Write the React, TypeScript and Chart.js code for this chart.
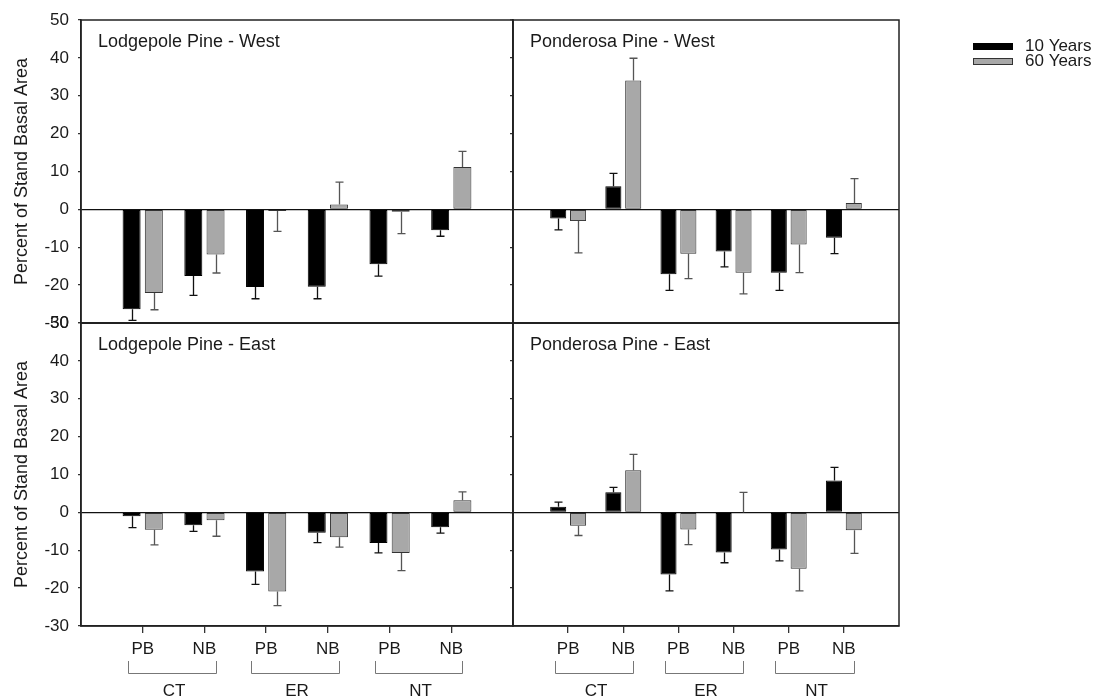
import React, { useEffect, useRef } from 'react';
import { Chart, registerables } from 'chart.js';

Chart.register(...registerables);

// ---------------- data ----------------
const seriesNames = ['10 Years', '60 Years'];
const treatmentLabels = ['PB', 'NB', 'PB', 'NB', 'PB', 'NB'];
const groupLabels = ['CT', 'ER', 'NT'];
const yMin = -30;
const yMax = 50;
const yStep = 10;
const yAxisTitle = 'Percent of Stand Basal Area';
const panelTitles = [
  'Lodgepole Pine - West',
  'Ponderosa Pine - West',
  'Lodgepole Pine - East',
  'Ponderosa Pine - East',
];

const lpWest10 = [-26.4, -17.6, -20.5, -20.4, -14.5, -5.5];
const lpWest10Err = [2.9, 5.1, 3.1, 3.2, 3.1, 1.6];
const lpWest60 = [-22.1, -11.9, -0.4, 1.3, -0.6, 11.2];
const lpWest60Err = [4.4, 4.9, 5.4, 5.9, 5.8, 4.1];

const ppWest10 = [-2.4, 6.1, -17.1, -11.1, -16.7, -7.5];
const ppWest10Err = [3.0, 3.4, 4.3, 4.1, 4.7, 4.2];
const ppWest60 = [-3.1, 34.0, -11.7, -16.7, -9.3, 1.7];
const ppWest60Err = [8.4, 5.9, 6.6, 5.6, 7.4, 6.4];

const lpEast10 = [-1.0, -3.4, -15.6, -5.4, -8.1, -3.9];
const lpEast10Err = [3.0, 1.6, 3.4, 2.6, 2.6, 1.6];
const lpEast60 = [-4.6, -2.1, -20.9, -6.6, -10.7, 3.2];
const lpEast60Err = [4.0, 4.2, 3.7, 2.6, 4.7, 2.2];

const ppEast10 = [1.5, 5.3, -16.4, -10.6, -9.8, 8.4];
const ppEast10Err = [1.2, 1.3, 4.3, 2.7, 3.0, 3.5];
const ppEast60 = [-3.5, 11.1, -4.5, 0, -14.9, -4.7];
const ppEast60Err = [2.6, 4.2, 4.0, 5.3, 5.8, 6.1];

// ---------------- style ----------------
const FONT = "'Liberation Sans', Arial, Helvetica, sans-serif";
const TEXT = '#1a1a1a';
const barColors = ['#000000', '#a8a8a8'];
const barBorders = ['#000000', '#333333'];
const errColors = ['#111111', '#555555'];

Chart.defaults.font.family = FONT;
Chart.defaults.font.size = 17;
Chart.defaults.color = TEXT;

const pad = (arr: (number | null)[]) => [null, ...arr, null];
const xLabels = ['', ...treatmentLabels, ''];

type PanelCfg = {
  x: number; y: number; w: number; h: number;
  padding: { top: number; right: number; bottom: number; left: number };
  yWidth: number;
  showYLabels: boolean;
  bottomRow: boolean;
  legend: boolean;
  title: string;
  v10: number[]; e10: number[]; v60: number[]; e60: number[];
};

// chart areas: left column x 81..513, right column 513..899; top row y 20..323, bottom row 323..626
const panels: PanelCfg[] = [
  {
    x: 0, y: 0, w: 530, h: 360,
    padding: { top: 20, right: 17, bottom: 37, left: 0 },
    yWidth: 81, showYLabels: true, bottomRow: false, legend: false,
    title: panelTitles[0], v10: lpWest10, e10: lpWest10Err, v60: lpWest60, e60: lpWest60Err,
  },
  {
    x: 500, y: 0, w: 596, h: 360,
    padding: { top: 20, right: 197, bottom: 37, left: 0 },
    yWidth: 13, showYLabels: false, bottomRow: false, legend: true,
    title: panelTitles[1], v10: ppWest10, e10: ppWest10Err, v60: ppWest60, e60: ppWest60Err,
  },
  {
    x: 0, y: 293, w: 530, h: 405,
    padding: { top: 30, right: 17, bottom: 0, left: 0 },
    yWidth: 81, showYLabels: true, bottomRow: true, legend: false,
    title: panelTitles[2], v10: lpEast10, e10: lpEast10Err, v60: lpEast60, e60: lpEast60Err,
  },
  {
    x: 500, y: 293, w: 596, h: 405,
    padding: { top: 30, right: 197, bottom: 0, left: 0 },
    yWidth: 13, showYLabels: false, bottomRow: true, legend: false,
    title: panelTitles[3], v10: ppEast10, e10: ppEast10Err, v60: ppEast60, e60: ppEast60Err,
  },
];

const errorBarPlugin = {
  id: 'errorBarsDraw',
  afterDatasetsDraw(chart: any) {
    const ctx = chart.ctx;
    const yScale = chart.scales.y;
    chart.data.datasets.forEach((ds: any, di: number) => {
      const meta = chart.getDatasetMeta(di);
      const errs = ds.errors as (number | null)[];
      meta.data.forEach((bar: any, j: number) => {
        const v = ds.data[j];
        const e = errs[j];
        if (v == null || e == null) return;
        const end = v >= 0 ? v + e : v - e;
        const y1 = yScale.getPixelForValue(v);
        const y2 = yScale.getPixelForValue(end);
        const x = Math.round(bar.x) + 0.5;
        ctx.save();
        ctx.strokeStyle = errColors[di];
        ctx.lineWidth = 1.3;
        ctx.beginPath();
        ctx.moveTo(x, y1);
        ctx.lineTo(x, y2);
        ctx.moveTo(x - 4, y2);
        ctx.lineTo(x + 4, y2);
        ctx.stroke();
        ctx.restore();
      });
    });
  },
};

function makeDecorPlugin(cfg: PanelCfg) {
  return {
    id: 'panelDecor',
    afterDraw(chart: any) {
      const ctx = chart.ctx;
      const a = chart.chartArea;
      ctx.save();
      // panel frame
      ctx.strokeStyle = '#222';
      ctx.lineWidth = 1.5;
      ctx.strokeRect(a.left, a.top, a.right - a.left, a.bottom - a.top);
      if (!cfg.bottomRow) {
        ctx.lineWidth = 2.2;
        ctx.beginPath();
        ctx.moveTo(a.left, a.bottom);
        ctx.lineTo(a.right, a.bottom);
        ctx.stroke();
      }
      // panel title
      ctx.fillStyle = TEXT;
      ctx.font = `18px ${FONT}`;
      ctx.textAlign = 'left';
      ctx.textBaseline = 'alphabetic';
      ctx.fillText(cfg.title, a.left + 17, a.top + 27);

      // group brackets
      if (cfg.bottomRow) {
        const xs = chart.scales.x;
        const step = xs.getPixelForValue(2) - xs.getPixelForValue(1);
        ctx.font = `17px ${FONT}`;
        ctx.strokeStyle = '#777';
        ctx.lineWidth = 1;
        groupLabels.forEach((g, gi) => {
          const l = Math.round(xs.getPixelForValue(1 + gi * 2) - step * 0.24);
          const r = Math.round(xs.getPixelForValue(2 + gi * 2) + step * 0.18);
          const yTop = a.bottom + 35;
          const yBot = a.bottom + 47;
          ctx.beginPath();
          ctx.moveTo(l + 0.5, yTop);
          ctx.lineTo(l + 0.5, yBot + 0.5);
          ctx.lineTo(r + 0.5, yBot + 0.5);
          ctx.lineTo(r + 0.5, yTop);
          ctx.stroke();
          ctx.textAlign = 'center';
          ctx.textBaseline = 'middle';
          ctx.fillText(g, (l + r) / 2 + 2, a.bottom + 65);
        });
      }

      // legend
      if (cfg.legend) {
        ctx.font = `17px ${FONT}`;
        chart.data.datasets.forEach((ds: any, di: number) => {
          const bx = a.right + 74;
          const by = a.top + 23 + di * 15;
          ctx.fillStyle = ds.backgroundColor;
          ctx.fillRect(bx, by, 40, 6);
          ctx.strokeStyle = ds.borderColor;
          ctx.lineWidth = 1;
          ctx.strokeRect(bx + 0.5, by + 0.5, 39, 6);
          ctx.fillStyle = TEXT;
          ctx.textAlign = 'left';
          ctx.textBaseline = 'middle';
          ctx.fillText(ds.label, a.right + 126, by + 3.5);
        });
      }
      ctx.restore();
    },
  };
}

function Panel({ cfg }: { cfg: PanelCfg }) {
  const ref = useRef<HTMLCanvasElement | null>(null);
  useEffect(() => {
    if (!ref.current) return;
    const chart = new Chart(ref.current, {
      type: 'bar',
      data: {
        labels: xLabels,
        datasets: [
          {
            label: seriesNames[0],
            data: pad(cfg.v10),
            errors: pad(cfg.e10),
            backgroundColor: barColors[0],
            borderColor: barBorders[0],
            borderWidth: 1,
            borderSkipped: false,
          } as any,
          {
            label: seriesNames[1],
            data: pad(cfg.v60),
            errors: pad(cfg.e60),
            backgroundColor: barColors[1],
            borderColor: barBorders[1],
            borderWidth: 1,
            borderSkipped: false,
          } as any,
        ],
      },
      options: {
        animation: false,
        responsive: false,
        maintainAspectRatio: false,
        devicePixelRatio: 1,
        layout: { padding: cfg.padding },
        datasets: { bar: { categoryPercentage: 0.72, barPercentage: 0.81 } },
        plugins: { legend: { display: false }, tooltip: { enabled: false } },
        scales: {
          x: {
            type: 'category',
            display: cfg.bottomRow,
            offset: false,
            grid: {
              offset: false,
              drawOnChartArea: false,
              drawTicks: true,
              tickLength: 7,
              lineWidth: 1.3,
              tickColor: (c: any) => (c.index === 0 || c.index === xLabels.length - 1 ? 'rgba(0,0,0,0)' : '#333'),
            },
            border: { display: true, color: '#222', width: 1.5 },
            ticks: { autoSkip: false, maxRotation: 0, minRotation: 0, padding: 6, color: TEXT, font: { size: 17 } },
            afterFit: (s: any) => { if (cfg.bottomRow) s.height = 72; },
          },
          y: {
            min: yMin,
            max: yMax,
            ticks: { stepSize: yStep, display: cfg.showYLabels, padding: 9, color: TEXT, font: { size: 17 } },
            grid: {
              drawOnChartArea: true,
              drawTicks: true,
              tickLength: 3,
              lineWidth: 1.3,
              color: (c: any) => (c.tick && c.tick.value === 0 ? '#111' : 'rgba(0,0,0,0)'),
              tickColor: '#333',
            },
            border: { display: true, color: '#222', width: 1.5 },
            title: {
              display: cfg.showYLabels,
              text: yAxisTitle,
              color: TEXT,
              font: { size: 18 },
              padding: { top: 11, bottom: 0 },
            },
            afterFit: (s: any) => { s.width = cfg.yWidth; },
          },
        },
      } as any,
      plugins: [errorBarPlugin, makeDecorPlugin(cfg)],
    });
    return () => chart.destroy();
  }, []);
  return (
    <canvas
      ref={ref}
      width={cfg.w}
      height={cfg.h}
      style={{ position: 'absolute', left: cfg.x, top: cfg.y, width: cfg.w, height: cfg.h }}
    />
  );
}

export default function App() {
  return (
    <div style={{ position: 'fixed', left: 0, top: 0, width: 1096, height: 698, background: '#fff', overflow: 'hidden' }}>
      {panels.map((p, i) => (
        <Panel key={i} cfg={p} />
      ))}
    </div>
  );
}
